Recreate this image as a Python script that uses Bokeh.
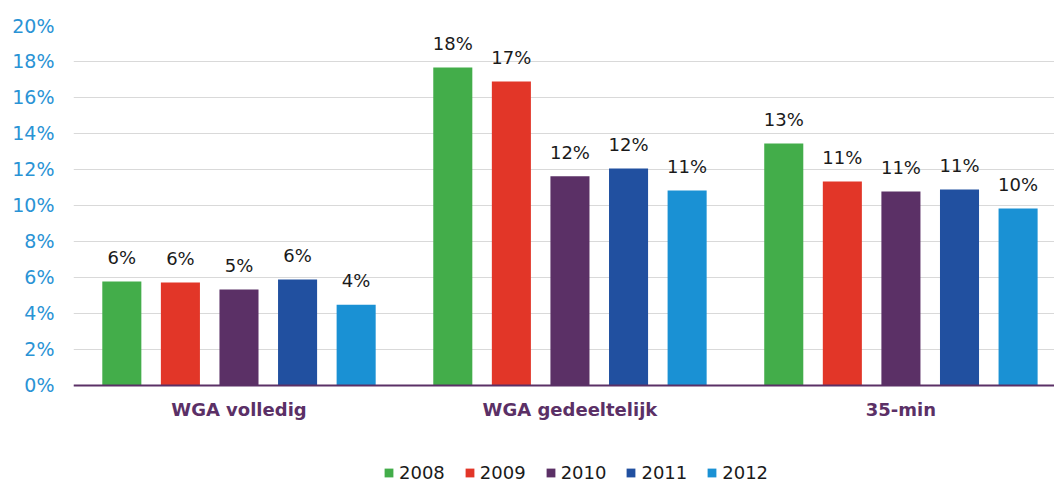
from bokeh.plotting import figure
from bokeh.models import ColumnDataSource, Legend, LegendItem, FixedTicker, PrintfTickFormatter, Range1d, Span
from bokeh.transform import dodge
from bokeh.core.properties import value
from bokeh.embed import file_html
from bokeh.resources import INLINE

categories = ["WGA volledig", "WGA gedeeltelijk", "35-min"]
years = ["2008", "2009", "2010", "2011", "2012"]
v2008 = [5.78, 17.67, 13.45]
v2009 = [5.72, 16.89, 11.33]
v2010 = [5.33, 11.62, 10.78]
v2011 = [5.89, 12.06, 10.89]
v2012 = [4.48, 10.83, 9.83]
y_ticks = [0, 2, 4, 6, 8, 10, 12, 14, 16, 18, 20]

series = [v2008, v2009, v2010, v2011, v2012]
colors = ["#43ad4a", "#e23628", "#5b3066", "#2150a0", "#1a91d4"]
PURPLE = "#5b3066"
FONT = "DejaVu Sans"

# frame spans the full height; 0..20 occupies the top part, the space below 0
# holds the category labels and the legend
p = figure(width=1054, height=482, output_backend="svg", toolbar_location=None,
           x_range=Range1d(-0.5, 2.464), y_range=Range1d(-5.39, 20),
           min_border_left=73, min_border_right=0, min_border_top=25, min_border_bottom=0)
p.outline_line_color = None
p.xaxis.visible = False

idx = list(range(len(categories)))
step = 0.177
items = []
for j, (yr, vals, col) in enumerate(zip(years, series, colors)):
    src = ColumnDataSource(dict(idx=idx, v=vals, lbl=[f"{round(v)}%" for v in vals]))
    r = p.vbar(x=dodge("idx", (j - 2) * step), top="v", width=0.118, source=src,
               fill_color=col, line_color=None)
    p.text(x=dodge("idx", (j - 2) * step), y="v", text="lbl", source=src,
           text_align="center", text_baseline="alphabetic", y_offset=-24,
           text_font_size="18px", text_color="#1a1a1a", text_font=value(FONT))
    items.append(LegendItem(label=yr, renderers=[r]))

# baseline (category axis line)
p.add_layout(Span(location=0, dimension="width", line_color=PURPLE, line_width=2))

# category labels
cat_src = ColumnDataSource(dict(idx=idx, y=[0] * len(idx), name=categories))
p.text(x="idx", y="y", text="name", source=cat_src, text_align="center",
       text_baseline="middle", y_offset=24, text_font=value(FONT),
       text_font_size="18px", text_font_style="bold", text_color=PURPLE)

p.yaxis.ticker = FixedTicker(ticks=y_ticks)
p.yaxis.formatter = PrintfTickFormatter(format="%d%%")
p.yaxis.axis_line_color = None
p.yaxis.major_tick_line_color = None
p.yaxis.minor_tick_line_color = None
p.yaxis.major_label_text_font = FONT
p.yaxis.major_label_text_font_size = "19px"
p.yaxis.major_label_text_color = "#2a93d5"
p.yaxis.major_label_standoff = 13

p.xgrid.grid_line_color = None
p.ygrid.grid_line_color = "#d9d9d9"
p.ygrid.grid_line_width = 1

legend = Legend(items=items, orientation="horizontal", location=(310, -1),
                glyph_width=11, glyph_height=11, label_standoff=5, spacing=19,
                padding=0, margin=0, border_line_color=None, background_fill_alpha=0,
                label_text_font=FONT, label_text_font_size="18px", label_text_color="#1a1a1a")
p.add_layout(legend, "center")

open("out.html", "w").write(file_html(p, INLINE))
